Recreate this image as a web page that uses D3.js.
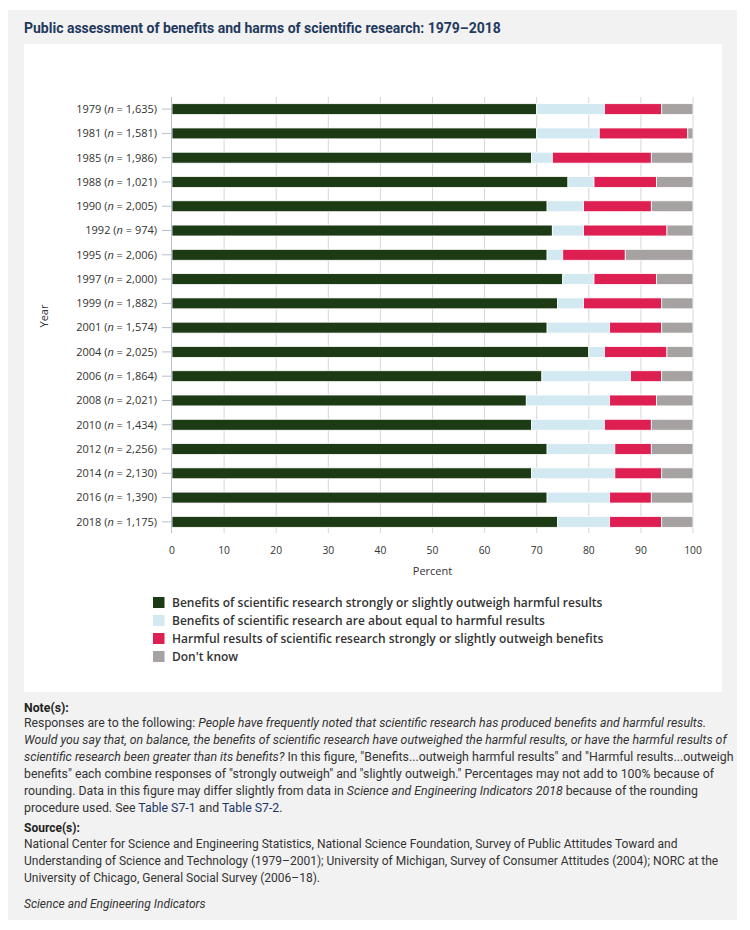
<!DOCTYPE html>
<html>
<head>
<meta charset="utf-8">
<script src="https://cdn.jsdelivr.net/npm/d3@7"></script>
<style>
  body { margin: 0; background: #fff; font-family: "Open Sans", sans-serif; }
  #panel { position: absolute; left: 8px; top: 10px; width: 729px; height: 910px; background: #f2f2f2; }
  #title { position: absolute; left: 16px; top: 10px; font-family: "Liberation Sans Narrow", "Roboto", sans-serif;
           font-weight: bold; font-size: 14px; color: #23395d; white-space: nowrap; }
  #chartbox { position: absolute; left: 16px; top: 34px; width: 698px; height: 648px; background: #fff; }
  .notes { position: absolute; left: 16px; font-family: "Liberation Sans Narrow", "Roboto", sans-serif;
           font-size: 12.3px; line-height: 17px; color: #333; white-space: nowrap; }
  .notes .head { font-weight: bold; color: #222; line-height: 14px; }
  .notes .lnk { color: #1b3564; }
  svg { position: absolute; left: 0; top: 0; }
</style>
</head>
<body>
<div id="panel">
  <div id="title">Public assessment of benefits and harms of scientific research: 1979–2018</div>
  <div id="chartbox"></div>
  <div class="notes" style="top:691px">
    <div class="head">Note(s):</div>
    Responses are to the following: <i>People have frequently noted that scientific research has produced benefits and harmful results.</i><br>
    <i>Would you say that, on balance, the benefits of scientific research have outweighed the harmful results, or have the harmful results of</i><br>
    <i>scientific research been greater than its benefits?</i> In this figure, "Benefits...outweigh harmful results" and "Harmful results...outweigh<br>
    benefits" each combine responses of "strongly outweigh" and "slightly outweigh." Percentages may not add to 100% because of<br>
    rounding. Data in this figure may differ slightly from data in <i>Science and Engineering Indicators 2018</i> because of the rounding<br>
    procedure used. See <span class="lnk">Table S7-1</span> and <span class="lnk">Table S7-2</span>.
  </div>
  <div class="notes" style="top:811px;font-size:12px">
    <div class="head" style="line-height:15px">Source(s):</div>
    National Center for Science and Engineering Statistics, National Science Foundation, Survey of Public Attitudes Toward and<br>
    Understanding of Science and Technology (1979–2001); University of Michigan, Survey of Consumer Attitudes (2004); NORC at the<br>
    University of Chicago, General Social Survey (2006–18).<br>
    <div style="height:9px"></div>
    <i>Science and Engineering Indicators</i>
  </div>
</div>
<svg id="chart" width="750" height="930"></svg>
<script>
// survey years and sample sizes
const years = ["1979", "1981", "1985", "1988", "1990", "1992", "1995", "1997", "1999",
  "2001", "2004", "2006", "2008", "2010", "2012", "2014", "2016", "2018"];
const sampleSizes = ["1,635", "1,581", "1,986", "1,021", "2,005", "974", "2,006", "2,000", "1,882",
  "1,574", "2,025", "1,864", "2,021", "1,434", "2,256", "2,130", "1,390", "1,175"];

// percent of respondents
const benefitsOutweigh = [70, 70, 69, 76, 72, 73, 72, 75, 74, 72, 80, 71, 68, 69, 72, 69, 72, 74];
const aboutEqual = [13, 12, 4, 5, 7, 6, 3, 6, 5, 12, 3, 17, 16, 14, 13, 16, 12, 10];
const harmsOutweigh = [11, 17, 19, 12, 13, 16, 12, 12, 15, 10, 12, 6, 9, 9, 7, 9, 8, 10];
const dontKnow = [6, 1, 8, 7, 8, 5, 13, 7, 6, 6, 5, 6, 7, 8, 8, 6, 8, 6];

const seriesKeys = ["benefits", "equal", "harms", "dk"];
const seriesLabels = [
  "Benefits of scientific research strongly or slightly outweigh harmful results",
  "Benefits of scientific research are about equal to harmful results",
  "Harmful results of scientific research strongly or slightly outweigh benefits",
  "Don't know"
];
const colors = ["#1c3a14", "#d3e9f1", "#de1f52", "#a6a2a2"];
const xTicks = [0, 10, 20, 30, 40, 50, 60, 70, 80, 90, 100];

const data = years.map((y, i) => ({
  year: y,
  n: sampleSizes[i],
  benefits: benefitsOutweigh[i],
  equal: aboutEqual[i],
  harms: harmsOutweigh[i],
  dk: dontKnow[i]
}));

const svg = d3.select("#chart");

const x = d3.scaleLinear().domain([0, 100]).range([172, 693]);
const y = d3.scaleBand()
  .domain(years)
  .range([97, 534])
  .paddingInner(0.55)
  .paddingOuter(0.275);

const color = d3.scaleOrdinal().domain(seriesKeys).range(colors);

// gridlines
svg.append("g")
  .selectAll("line")
  .data(xTicks.slice(1))
  .join("line")
  .attr("x1", (d) => x(d))
  .attr("x2", (d) => x(d))
  .attr("y1", 97)
  .attr("y2", 533)
  .attr("stroke", "#d6d6d6")
  .attr("stroke-width", 1);

// x tick labels
svg.append("g")
  .selectAll("text")
  .data(xTicks)
  .join("text")
  .attr("x", (d) => x(d))
  .attr("y", 554)
  .attr("text-anchor", "middle")
  .style("font-size", "10.3px")
  .style("fill", "#333")
  .text((d) => d);

// stacked bars
const stacked = d3.stack().keys(seriesKeys)(data);

svg.append("g")
  .selectAll("g")
  .data(stacked)
  .join("g")
  .attr("fill", (d) => color(d.key))
  .selectAll("rect")
  .data((d) => d)
  .join("rect")
  .attr("x", (d) => x(d[0]))
  .attr("width", (d) => x(d[1]) - x(d[0]))
  .attr("y", (d) => y(d.data.year))
  .attr("height", y.bandwidth())
  .attr("stroke", "#fff")
  .attr("stroke-width", 0.8);

// y axis
const yAxis = svg.append("g");
yAxis.append("line")
  .attr("x1", 171.5).attr("x2", 171.5)
  .attr("y1", 97).attr("y2", 533)
  .attr("stroke", "#b7bfd0");

const yTick = yAxis.selectAll(".ytick")
  .data(data)
  .join("g")
  .attr("class", "ytick")
  .attr("transform", (d) => `translate(0,${y(d.year) + y.bandwidth() / 2})`);

yTick.append("line")
  .attr("x1", 162).attr("x2", 171)
  .attr("stroke", "#b7bfd0");

const yLabel = yTick.append("text")
  .attr("x", 157)
  .attr("dy", "0.35em")
  .attr("text-anchor", "end")
  .style("font-size", "11px")
  .style("fill", "#333");
yLabel.append("tspan").text((d) => d.year + " (");
yLabel.append("tspan").style("font-style", "italic").text("n");
yLabel.append("tspan").text((d) => " = " + d.n + ")");

// axis titles
svg.append("text")
  .attr("x", x(50))
  .attr("y", 575)
  .attr("text-anchor", "middle")
  .style("font-size", "11px")
  .style("fill", "#333")
  .text("Percent");

svg.append("text")
  .attr("transform", "translate(48,316) rotate(-90)")
  .attr("text-anchor", "middle")
  .style("font-size", "11px")
  .style("fill", "#333")
  .text("Year");

// legend
const legend = svg.append("g")
  .selectAll("g")
  .data(seriesKeys)
  .join("g")
  .attr("transform", (d, i) => `translate(153,${597 + i * 18})`);

legend.append("rect")
  .attr("width", 11.5)
  .attr("height", 11)
  .attr("fill", (d) => color(d));

legend.append("text")
  .attr("x", 19)
  .attr("y", 5.5)
  .attr("dy", "0.35em")
  .style("font-size", "12px")
  .style("font-weight", 600)
  .style("fill", "#333")
  .text((d, i) => seriesLabels[i]);
</script>
</body>
</html>
